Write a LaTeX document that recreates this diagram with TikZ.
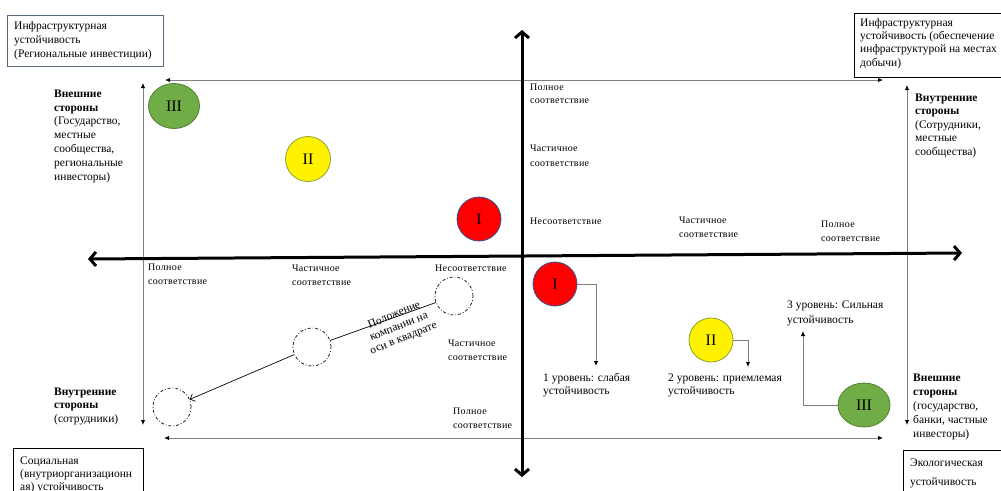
\documentclass[tikz,border=0pt]{standalone}
\usepackage{fontspec}
\setmainfont{Liberation Serif}
\newfontfamily\spacedfont[LetterSpace=3]{Liberation Serif}
\usetikzlibrary{arrows.meta,shapes.geometric}
\definecolor{grn}{RGB}{112,173,71}
\definecolor{grnb}{RGB}{80,126,50}
\definecolor{redb}{RGB}{47,85,151}
\definecolor{yelb}{RGB}{140,160,50}
\definecolor{thingray}{RGB}{128,128,128}
\definecolor{boxb}{RGB}{90,105,130}
\begin{document}
\begin{tikzpicture}[x=1pt,y=-1pt,
  lbl/.style={font=\fontsize{11.5}{13.8}\selectfont, align=left, anchor=base west, inner sep=0pt},
  sml/.style={font=\spacedfont\fontsize{10}{13.5}\selectfont, align=left, anchor=base west, inner sep=0pt},
  thinax/.style={draw=thingray, line width=0.9pt, {Latex[length=5pt,width=4.5pt,color=black]}-{Latex[length=5pt,width=4.5pt,color=black]}},
  thickax/.style={line width=3pt, {Straight Barb[length=6pt,width=14pt]}-{Straight Barb[length=6pt,width=14pt]}},
  conn/.style={draw=thingray, line width=0.9pt, -{Latex[length=5pt,width=4.5pt,color=black]}},
  lvl/.style={inner sep=0pt, font=\fontsize{16}{16}\selectfont},
  redc/.style={lvl, circle, fill=red, draw=redb, line width=0.8pt, minimum size=44pt},
  yelc/.style={lvl, circle, fill=yellow, draw=yelb, line width=0.8pt, minimum size=45pt},
  grnc/.style={lvl, ellipse, fill=grn, draw=grnb, line width=0.8pt, minimum width=51pt, minimum height=45pt},
  dcirc/.style={circle, draw, dash pattern=on 3pt off 2pt on 0.8pt off 2pt, line width=0.7pt, minimum size=38pt, inner sep=0pt},
  boxn/.style={draw, line width=0.8pt, anchor=north west, inner sep=0pt}
]
\useasboundingbox (0,0) rectangle (1001,490);
\clip (0,0) rectangle (1001,490);
\fill[white] (0,0) rectangle (1001,490);

% corner boxes (text nodes are placed by the baseline of their last line)
\node[boxn, draw=boxb, minimum width=156pt, minimum height=51pt] (tlbox) at (7,15) {};
\node[lbl] (tltext) at (14,57) {Инфраструктурная\\устойчивость\\(Региональные инвестиции)};
\node[boxn, minimum width=160pt, minimum height=64pt] (trbox) at (854,13) {};
\node[lbl, font=\fontsize{11.5}{13.3}\selectfont] (trtext) at (860,66) {Инфраструктурная\\устойчивость (обеспечение\\инфраструктурой на местах\\добычи)};
\node[boxn, minimum width=130pt, minimum height=60pt] (blbox) at (13,448) {};
\node[lbl, font=\fontsize{11.5}{13}\selectfont] (bltext) at (20,490) {Социальная\\(внутриорганизационн\\ая) устойчивость};
\node[boxn, minimum width=120pt, minimum height=60pt] (brbox) at (903,450) {};
\node[lbl, font=\fontsize{11.5}{18.5}\selectfont] (brtext) at (910,485) {Экологическая\\устойчивость};

% thin frame arrows
\coordinate (lt) at (143,83); \coordinate (lb) at (143,425);
\coordinate (rt) at (907,85); \coordinate (rb) at (907,425);
\coordinate (tl) at (165,80); \coordinate (tr) at (883,80);
\coordinate (bl) at (164,438); \coordinate (br) at (883,438);
\draw[thinax] (lb) -- (lt);
\draw[thinax] (rb) -- (rt);
\draw[thinax] (tl) -- (tr);
\draw[thinax] (bl) -- (br);

% thick axes
\coordinate (vt) at (522,30); \coordinate (vb) at (522,477);
\coordinate (hl) at (88,259); \coordinate (hr) at (962,253);
\draw[thickax] (vb) -- (vt);
\draw[thickax] (hl) -- (hr);

% side labels
\node[lbl] (ltside) at (54,180) {\textbf{Внешние}\\\textbf{стороны}\\(Государство,\\местные\\сообщества,\\региональные\\инвесторы)};
\node[lbl, font=\fontsize{11.5}{13.5}\selectfont] (rtside) at (915,155) {\textbf{Внутренние}\\\textbf{стороны}\\(Сотрудники,\\местные\\сообщества)};
\node[lbl, font=\fontsize{11.5}{13.5}\selectfont] (lbside) at (54,422) {\textbf{Внутренние}\\\textbf{стороны}\\(сотрудники)};
\node[lbl, font=\fontsize{11.5}{14}\selectfont] (rbside) at (913,437) {\textbf{Внешние}\\\textbf{стороны}\\(государство,\\банки, частные\\инвесторы)};

% scale labels
\node[sml, font=\spacedfont\fontsize{10}{13}\selectfont] (v1) at (530,103) {Полное\\соответствие};
\node[sml, font=\spacedfont\fontsize{10}{15}\selectfont] (v2) at (530,166) {Частичное\\соответствие};
\node[sml] (v3) at (530,224) {Несоответствие};
\node[sml] (h1) at (679,237) {Частичное\\соответствие};
\node[sml] (h2) at (821,241) {Полное\\соответствие};
\node[sml] (l1) at (148,284) {Полное\\соответствие};
\node[sml] (l2) at (292,285) {Частичное\\соответствие};
\node[sml] (l3) at (435,271) {Несоответствие};
\node[sml] (m1) at (448,360) {Частичное\\соответствие};
\node[sml] (m2) at (453,428) {Полное\\соответствие};

% level circles
\node[grnc] (g1) at (174,106) {III};
\node[yelc] (y1) at (308,159) {II};
\node[redc] (r1) at (479,219) {I};
\node[redc] (r2) at (555,284) {I};
\node[yelc, minimum size=44pt] (y2) at (711,340) {II};
\node[grnc, minimum width=52pt, minimum height=44pt] (g2) at (864,405) {III};

% level labels
\node[lbl, font=\fontsize{11.5}{13}\selectfont] (lev1) at (543,394) {1 уровень: слабая\\устойчивость};
\node[lbl, font=\fontsize{11.5}{13}\selectfont] (lev2) at (668,394) {2 уровень: приемлемая\\устойчивость};
\node[lbl, font=\fontsize{11.5}{15}\selectfont] (lev3) at (787,323) {3 уровень: Сильная\\устойчивость};

\coordinate (a1) at (596,366);
\coordinate (a2) at (748,367);
\coordinate (a3) at (803,331);
\draw[conn] (r2.east) -| (a1);
\draw[conn] (y2.east) -| (a2);
\draw[conn] (g2.west) -| (a3);

% company position path
\node[dcirc] (dA) at (454,296) {};
\node[dcirc] (dB) at (312,347) {};
\node[dcirc] (dC) at (172,407) {};
\draw[line width=0.7pt] (dA) -- (dB);
\draw[line width=0.7pt, -{Straight Barb[length=4pt,width=8pt]}] (dB) -- (dC);
\node[font=\fontsize{11.5}{12.5}\selectfont, align=center, rotate=22, inner sep=0pt] (pos) at (399,327) {Положение\\компании на\\оси в квадрате};
\end{tikzpicture}
\end{document}
